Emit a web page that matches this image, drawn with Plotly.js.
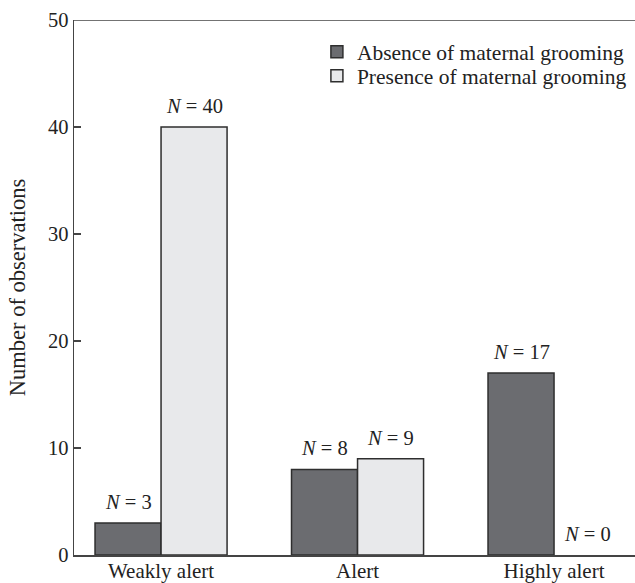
<!DOCTYPE html>
<html>
<head>
<meta charset="utf-8">
<script src="https://cdn.plot.ly/plotly-3.0.1.min.js"></script>
<style>html,body{margin:0;padding:0;background:#fff}#chart{width:635px;height:583px}</style>
</head>
<body>
<div id="chart"></div>
<script>
const categories = ["Weakly alert", "Alert", "Highly alert"];
const absenceValues = [3, 8, 17];
const presenceValues = [40, 9, 0];
const seriesNames = ["Absence of maternal grooming", "Presence of maternal grooming"];
const yTicks = [0, 10, 20, 30, 40, 50];

const FONT = "Liberation Serif, Times New Roman, serif";
const TXT = "#222";
const outline = (vals) => vals.map(v => v === 0 ? 0 : 1.5);

const traces = [
  {type: "bar", name: seriesNames[0], x: categories, y: absenceValues, legend: "legend",
   marker: {color: "#6b6c70", line: {color: "#2e2e2e", width: outline(absenceValues)}}},
  {type: "bar", name: seriesNames[1], x: categories, y: presenceValues, legend: "legend2",
   marker: {color: "#e8e9eb", line: {color: "#2e2e2e", width: outline(presenceValues)}}}
];

const annotations = [];
[absenceValues, presenceValues].forEach((vals, si) => {
  vals.forEach((v, i) => {
    annotations.push({
      x: categories[i], y: v, xref: "x", yref: "y",
      text: "<i>N</i> = " + v, showarrow: false,
      xanchor: "center", yanchor: "bottom",
      xshift: si === 0 ? -33 : 33, yshift: 8,
      font: {family: FONT, size: 20.5, color: TXT}
    });
  });
});

const legendStyle = (y) => ({x: 0.433, y: y, xanchor: "left", yanchor: "top",
  font: {family: FONT, size: 21.5, color: TXT},
  bgcolor: "rgba(0,0,0,0)", itemwidth: 30});

const layout = {
  width: 635, height: 583,
  margin: {l: 74, r: 0, t: 20, b: 28},
  paper_bgcolor: "#fff", plot_bgcolor: "#fff",
  font: {family: FONT, size: 21, color: TXT},
  barmode: "group", bargap: 0.328, bargroupgap: 0,
  showlegend: true,
  legend: legendStyle(0.979),
  legend2: legendStyle(0.934),
  xaxis: {range: [-0.443, 2.412], showline: true, linecolor: "#444", linewidth: 1.5,
          ticks: "", showgrid: false, zeroline: false, fixedrange: true,
          ticklabelstandoff: -4,
          tickfont: {family: FONT, size: 21, color: TXT}},
  yaxis: {range: [0, 50], tickvals: yTicks, ticks: "inside", ticklen: 7, tickwidth: 1.3,
          tickcolor: "#444", showline: true, linecolor: "#444", linewidth: 1.5,
          showgrid: false, zeroline: false,
          title: {text: "Number of observations", standoff: 16,
                  font: {family: FONT, size: 22.5, color: TXT}},
          tickfont: {family: FONT, size: 20.5, color: TXT}},
  shapes: [{type: "line", xref: "paper", yref: "y", x0: 0, x1: 1, y0: 50, y1: 50,
            line: {color: "#444", width: 1.5}}],
  annotations: annotations
};

Plotly.newPlot("chart", traces, layout, {displayModeBar: false, staticPlot: true});
</script>
</body>
</html>
